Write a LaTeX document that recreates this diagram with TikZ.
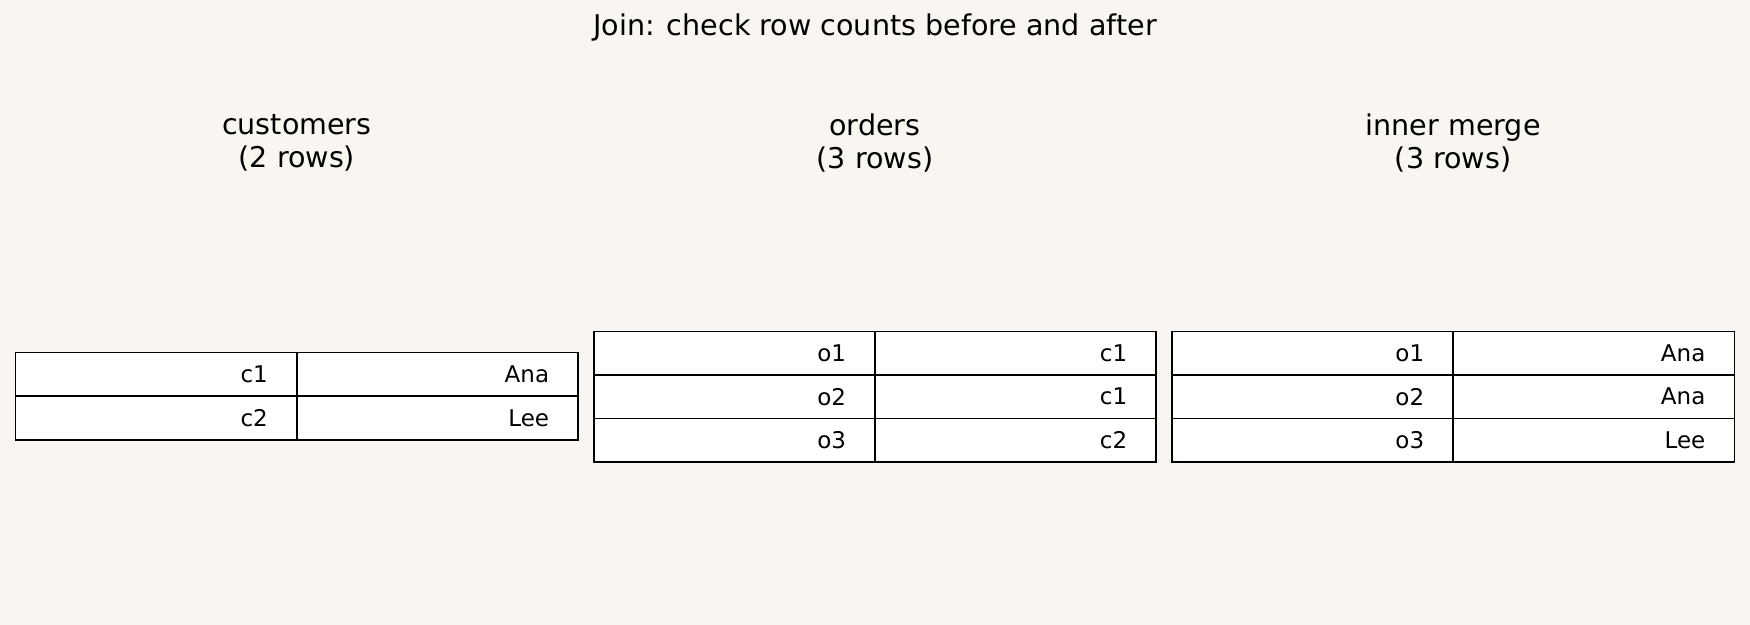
\documentclass[tikz,border=0pt]{standalone}
\usepackage{fontspec}
\setmainfont{DejaVu Sans}
\begin{document}
\begin{tikzpicture}[x=0.5pt,y=-0.5pt,
  cell/.style={draw=black,line width=0.7pt,fill=white,inner xsep=13pt,inner ysep=0pt,text width=100pt,align=right,minimum height=19.5pt,font=\fontsize{10.3}{12}\selectfont},
  hdr/.style={align=center,font=\fontsize{12.8}{15}\selectfont},
  ttl/.style={font=\fontsize{12.8}{15}\selectfont}]
\fill[fill={rgb,255:red,249;green,246;blue,241}] (0,0) rectangle (1568,560);
\useasboundingbox (0,0) rectangle (1568,560);
\node[ttl] (title) at (784,25) {Join: check row counts before and after};
\node[hdr] (h1) at (266,128) {customers\\(2 rows)};
\node[hdr] (h2) at (784,128) {orders\\(3 rows)};
\node[hdr] (h3) at (1302,128) {inner merge\\(3 rows)};
% customers
\node[cell] (a11) at (140,335.5) {c1};
\node[cell] (a12) at (392,335.5) {Ana};
\node[cell] (a21) at (140,374.5) {c2};
\node[cell] (a22) at (392,374.5) {Lee};
% orders
\node[cell] (b11) at (658,316.5) {o1};
\node[cell] (b12) at (910,316.5) {c1};
\node[cell] (b21) at (658,355.5) {o2};
\node[cell] (b22) at (910,355.5) {c1};
\node[cell] (b31) at (658,394.5) {o3};
\node[cell] (b32) at (910,394.5) {c2};
% merge
\node[cell] (c11) at (1176,316.5) {o1};
\node[cell] (c12) at (1428,316.5) {Ana};
\node[cell] (c21) at (1176,355.5) {o2};
\node[cell] (c22) at (1428,355.5) {Ana};
\node[cell] (c31) at (1176,394.5) {o3};
\node[cell] (c32) at (1428,394.5) {Lee};
\end{tikzpicture}
\end{document}
